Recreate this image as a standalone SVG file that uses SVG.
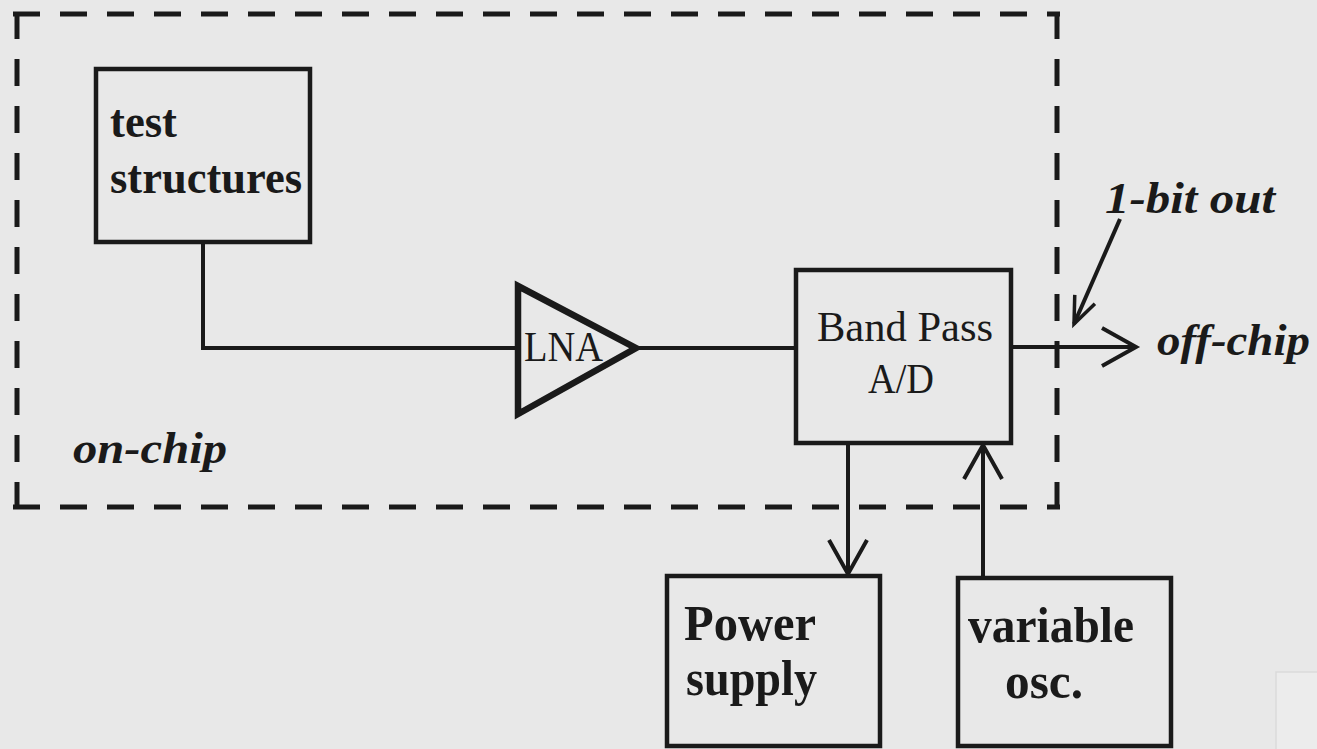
<svg xmlns="http://www.w3.org/2000/svg" width="1317" height="749" viewBox="0 0 1317 749">
<style>
.box{fill:none;stroke:#1a1a1a;stroke-width:4.5}
.wire{fill:none;stroke:#1a1a1a;stroke-width:4}
.dash{fill:none;stroke:#1a1a1a;stroke-width:5;stroke-dasharray:27 20}
.b{font-family:"Liberation Serif","Times New Roman",serif;font-weight:bold;font-size:46px;fill:#1a1a1a}
.bl{font-family:"Liberation Serif","Times New Roman",serif;font-weight:bold;font-size:50px;fill:#1a1a1a}
.r{font-family:"Liberation Serif","Times New Roman",serif;font-size:42px;fill:#1a1a1a}
.bi{font-family:"Liberation Serif","Times New Roman",serif;font-weight:bold;font-style:italic;font-size:45px;fill:#1a1a1a}
</style>
<defs>
<marker id="open" markerUnits="userSpaceOnUse" viewBox="-45 -25 50 50" refX="0" refY="0" markerWidth="50" markerHeight="50" orient="auto">
<path d="M-34,-19 L0,0 L-34,19" fill="none" stroke="#1a1a1a" stroke-width="4"/>
</marker>
<marker id="small" markerUnits="userSpaceOnUse" viewBox="-35 -20 40 40" refX="0" refY="0" markerWidth="40" markerHeight="40" orient="auto">
<path d="M-27,-11 L0,0 L-27,11" fill="none" stroke="#1a1a1a" stroke-width="3.5"/>
</marker>
</defs>
<rect width="1317" height="749" fill="#e8e8e8"/>
<g id="onchip-boundary">
<path class="dash" d="M13,14 H1060"/>
<path class="dash" d="M17,12 V510"/>
<path class="dash" d="M1057,12 V510"/>
<path class="dash" d="M13,507 H1060"/>
<text class="bi" x="73" y="463" textLength="154" lengthAdjust="spacingAndGlyphs">on-chip</text>
</g>
<g id="connectors">
<polyline class="wire" points="203,243 203,348 518,348"/>
<line class="wire" x1="637" y1="348" x2="796" y2="348"/>
<line class="wire" x1="1011" y1="347" x2="1136" y2="347" marker-end="url(#open)"/>
<line class="wire" x1="848" y1="443" x2="848" y2="574" marker-end="url(#open)"/>
<line class="wire" x1="983" y1="578" x2="983" y2="445" marker-end="url(#open)"/>
<line class="wire" x1="1120" y1="219" x2="1074" y2="324" stroke-width="3.5" marker-end="url(#small)"/>
</g>
<g id="test-structures">
<rect class="box" x="96" y="69" width="214" height="173"/>
<text class="b" x="110" y="137" textLength="67" lengthAdjust="spacingAndGlyphs">test</text>
<text class="b" x="110" y="193" textLength="192" lengthAdjust="spacingAndGlyphs">structures</text>
</g>
<g id="lna">
<path d="M518,286 L518,414 L636,348 Z" fill="none" stroke="#1a1a1a" stroke-width="6.5" stroke-linejoin="miter"/>
<text class="r" x="524" y="361" font-size="44" textLength="79" lengthAdjust="spacingAndGlyphs">LNA</text>
</g>
<g id="bandpass">
<rect class="box" x="796" y="270" width="215" height="173"/>
<text class="r" x="817" y="341" textLength="176" lengthAdjust="spacingAndGlyphs">Band Pass</text>
<text class="r" x="868" y="393" textLength="66" lengthAdjust="spacingAndGlyphs">A/D</text>
</g>
<g id="label-1bit">
<text class="bi" x="1105" y="213" textLength="170" lengthAdjust="spacingAndGlyphs">1-bit out</text>
</g>
<g id="label-offchip">
<text class="bi" x="1157" y="355" textLength="153" lengthAdjust="spacingAndGlyphs">off-chip</text>
</g>
<g id="power-supply">
<rect class="box" x="667" y="576" width="213" height="170"/>
<text class="bl" x="684" y="640" textLength="132" lengthAdjust="spacingAndGlyphs">Power</text>
<text class="bl" x="686" y="695" textLength="131" lengthAdjust="spacingAndGlyphs">supply</text>
</g>
<g id="variable-osc">
<rect class="box" x="958" y="578" width="213" height="168"/>
<text class="bl" x="968" y="642" textLength="166" lengthAdjust="spacingAndGlyphs">variable</text>
<text class="bl" x="1005" y="698" textLength="78" lengthAdjust="spacingAndGlyphs">osc.</text>
</g>
<g id="corner-artifact">
<rect x="1276" y="672" width="50" height="90" fill="#ececec" stroke="#dadada" stroke-width="1.5"/>
</g>
</svg>
